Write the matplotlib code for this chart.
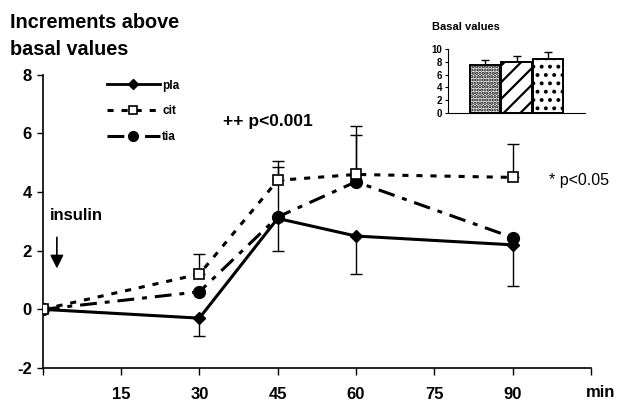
import numpy as np
import matplotlib
matplotlib.use('Agg')
import matplotlib.pyplot as plt
from matplotlib.lines import Line2D

plt.rcParams['font.family'] = ['Liberation Sans', 'DejaVu Sans']
plt.rcParams['font.weight'] = 'bold'
plt.rcParams['axes.unicode_minus'] = False

# time points (min)
minutes = [0, 30, 45, 60, 90]

pla = [0, -0.3, 3.1, 2.5, 2.2]
pla_err_low = [np.nan, 0.6, 1.1, 1.3, 1.4]

cit = [0, 1.2, 4.4, 4.6, 4.5]
cit_err_up = [np.nan, 0.7, 0.65, 1.65, 1.15]

tia = [0, 0.6, 3.15, 4.35, 2.45]
tia_err_up = [np.nan, np.nan, 1.7, 1.6, np.nan]

x_ticks = [0, 15, 30, 45, 60, 75, 90, 105]
x_ticklabels = ['', '15', '30', '45', '60', '75', '90', '']
y_ticks = [-2, 0, 2, 4, 6, 8]

# inset: basal values
basal_groups = ['pla', 'cit', 'tia']
basal_values = [7.5, 8.0, 8.5]
basal_err = [0.85, 0.9, 1.05]
basal_hatches = ['.....', '//', '..']

cit_dash = (2.0, 2.6)
tia_dash = (5.5, 2.6, 1.6, 2.6)

fig = plt.figure(figsize=(6.2, 4.05), dpi=100)
ax = fig.add_axes([0.069, 0.0914, 0.884, 0.724])

zero = [0] * len(minutes)

# pla: solid, diamonds, lower error bars
ax.errorbar(minutes, pla, yerr=[pla_err_low, zero], fmt='none', ecolor='black',
            elinewidth=1.0, capsize=4, capthick=1.0, zorder=2)
ax.plot(minutes, pla, color='black', lw=2.2, marker='D', markersize=6,
        markerfacecolor='black', zorder=4)

# cit: short dashes, open squares, upper error bars
ax.errorbar(minutes, cit, yerr=[zero, cit_err_up], fmt='none', ecolor='black',
            elinewidth=1.0, capsize=4, capthick=1.0, zorder=2)
ax.plot(minutes, cit, color='black', lw=2.2, dashes=cit_dash, marker='s', markersize=7,
        markerfacecolor='white', markeredgecolor='black', markeredgewidth=1.2, zorder=5)

# tia: long dash - short dash, filled circles
ax.errorbar(minutes, tia, yerr=[zero, tia_err_up], fmt='none', ecolor='black',
            elinewidth=1.0, capsize=4, capthick=1.0, zorder=2)
ax.plot(minutes, tia, color='black', lw=2.2, dashes=tia_dash, marker='o', markersize=8.5,
        markerfacecolor='black', zorder=4)

ax.set_xlim(0, 105)
ax.set_ylim(-2, 8)
ax.set_xticks(x_ticks)
ax.set_xticklabels(x_ticklabels)
ax.set_yticks(y_ticks)
ax.spines['top'].set_visible(False)
ax.spines['right'].set_visible(False)
ax.spines['left'].set_linewidth(1.2)
ax.spines['bottom'].set_linewidth(1.2)
ax.tick_params(axis='x', direction='out', length=5, width=1.0, pad=9, labelsize=12)
ax.tick_params(axis='y', direction='out', length=4, width=1.0, pad=4, labelsize=12)
for lbl in ax.get_xticklabels() + ax.get_yticklabels():
    lbl.set_fontweight('bold')

ax.text(106.8, -2.85, 'min', ha='center', va='center', fontsize=12, fontweight='bold',
        clip_on=False)

# legend
handles = [
    Line2D([], [], color='black', lw=2.0, marker='D', markersize=5),
    Line2D([], [], color='black', lw=2.2, dashes=cit_dash, marker='s', markersize=6,
           markerfacecolor='white', markeredgewidth=1.2),
    Line2D([], [], color='black', lw=2.2, dashes=tia_dash, marker='o', markersize=7),
]
leg = ax.legend(handles, ['pla', 'cit', 'tia'], loc='upper left',
                bbox_to_anchor=(0.097, 1.02), frameon=False, handlelength=4.5,
                handletextpad=0.2, labelspacing=1.15, prop={'size': 8.5, 'weight': 'bold'})

# annotations
ax.text(34.5, 6.4, '++ p<0.001', ha='left', va='center', fontsize=12.5, fontweight='bold')
ax.text(97, 4.4, '* p<0.05', ha='left', va='center', fontsize=11.5, fontweight='normal')
ax.text(1.3, 3.2, 'insulin', ha='left', va='center', fontsize=12, fontweight='bold')
ax.annotate('', xy=(2.7, 1.3), xytext=(2.7, 2.55),
            arrowprops=dict(arrowstyle='-|>', color='black', lw=1.2, mutation_scale=20))

fig.text(0.016, 0.945, 'Increments above', ha='left', va='center', fontsize=14.3,
         fontweight='bold')
fig.text(0.016, 0.878, 'basal values', ha='left', va='center', fontsize=14.3,
         fontweight='bold')

# inset bar chart
plt.rcParams['hatch.linewidth'] = 1.6
iax = fig.add_axes([0.7226, 0.721, 0.221, 0.158])
xpos = np.arange(len(basal_groups))
bars = iax.bar(xpos, basal_values, width=0.95, color='white', edgecolor='black',
               linewidth=1.4, zorder=2)
for bar, h in zip(bars, basal_hatches):
    bar.set_hatch(h)
iax.errorbar(xpos, basal_values, yerr=[[0] * 3, basal_err], fmt='none', ecolor='black',
             elinewidth=1.0, capsize=3, capthick=1.0, zorder=1)
iax.set_xlim(-1.16, 3.16)
iax.set_ylim(0, 10)
iax.set_yticks([0, 2, 4, 6, 8, 10])
iax.set_xticks([])
iax.spines['top'].set_visible(False)
iax.spines['right'].set_visible(False)
iax.spines['left'].set_linewidth(0.8)
iax.spines['bottom'].set_linewidth(0.8)
iax.tick_params(axis='y', length=2, width=0.8, pad=2, labelsize=7)
for lbl in iax.get_yticklabels():
    lbl.set_fontweight('bold')
fig.text(0.697, 0.933, 'Basal values', ha='left', va='center', fontsize=8,
         fontweight='bold')

fig.savefig('out.png', dpi=100)
